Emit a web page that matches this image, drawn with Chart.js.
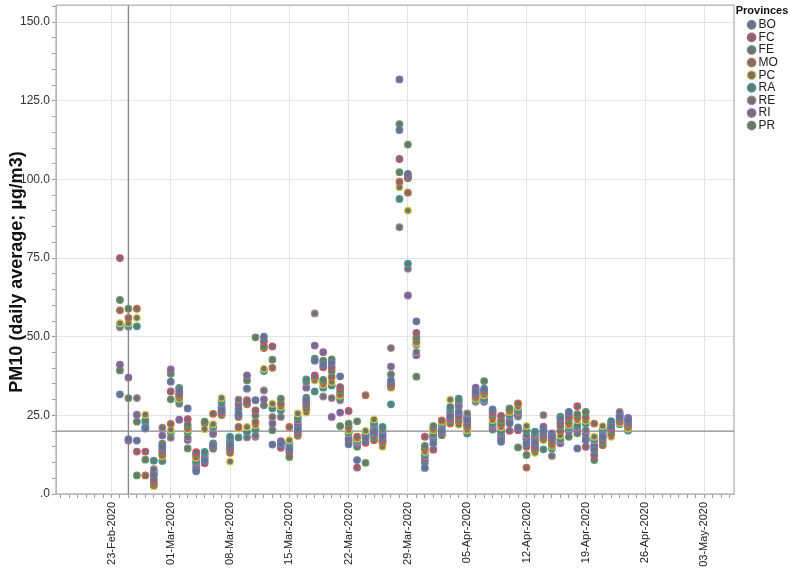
<!DOCTYPE html>
<html><head><meta charset="utf-8">
<script src="https://cdn.jsdelivr.net/npm/chart.js@4.4.1/dist/chart.umd.min.js"></script>
<style>html,body{margin:0;padding:0;background:#fff;}#wrap{width:790px;height:569px;position:relative;}</style>
</head><body><div id="wrap"><canvas id="c"></canvas></div>
<script>
// ---------- DATA ----------
const provinces = ['BO','FC','FE','MO','PC','RA','RE','RI','PR'];
const dates = [
 '2020-02-24','2020-02-25','2020-02-26','2020-02-27','2020-02-28','2020-02-29',
 '2020-03-01','2020-03-02','2020-03-03','2020-03-04','2020-03-05','2020-03-06','2020-03-07','2020-03-08','2020-03-09','2020-03-10',
 '2020-03-11','2020-03-12','2020-03-13','2020-03-14','2020-03-15','2020-03-16','2020-03-17','2020-03-18','2020-03-19','2020-03-20',
 '2020-03-21','2020-03-22','2020-03-23','2020-03-24','2020-03-25','2020-03-26','2020-03-27','2020-03-28','2020-03-29','2020-03-30','2020-03-31',
 '2020-04-01','2020-04-02','2020-04-03','2020-04-04','2020-04-05','2020-04-06','2020-04-07','2020-04-08','2020-04-09','2020-04-10',
 '2020-04-11','2020-04-12','2020-04-13','2020-04-14','2020-04-15','2020-04-16','2020-04-17','2020-04-18','2020-04-19','2020-04-20',
 '2020-04-21','2020-04-22','2020-04-23','2020-04-24'];
const BO = [31.7,17.4,17.0,20.8,6.0,15.0,35.7,33.1,27.2,7.2,10.6,15.5,26.6,15.5,25.6,33.5,29.8,50.0,15.7,15.8,14.2,20.6,29.8,42.4,41.3,41.7,37.4,15.8,10.8,17.6,19.7,18.2,36.1,115.7,101.8,54.9,8.3,16.1,20.0,24.7,26.1,23.4,32.4,33.5,26.9,16.6,22.4,21.2,16.1,16.2,19.8,18.2,24.0,26.1,14.5,17.1,14.0,18.2,21.4,24.5,23.2];
const FC = [75.0,17.0,13.5,13.5,4.6,14.2,32.6,32.0,23.8,13.3,9.8,15.0,26.1,14.7,25.0,29.8,26.6,48.6,46.9,14.7,13.4,20.0,29.0,37.7,40.3,40.3,34.0,26.4,8.4,16.3,19.2,17.3,35.0,106.5,100.9,51.2,18.2,14.1,19.5,24.0,25.0,22.4,31.9,33.0,26.2,24.8,20.1,20.3,15.0,15.2,19.0,17.4,22.7,24.8,27.9,15.0,12.4,17.7,20.8,24.0,22.6];
const FE = [61.7,58.9,5.9,10.9,3.6,13.3,30.1,31.4,22.0,12.7,23.0,14.4,25.6,14.0,24.5,28.9,25.0,47.0,42.7,30.3,11.8,19.2,28.2,37.2,36.3,39.1,32.9,22.4,23.1,9.9,18.2,16.8,34.5,102.3,100.4,49.6,15.3,21.6,18.7,23.4,24.3,21.8,31.4,32.5,25.6,23.5,27.2,14.8,12.4,14.5,18.2,16.6,21.6,24.0,25.4,26.1,10.8,16.6,20.3,23.5,21.9];
const MO = [58.4,56.0,58.9,5.9,2.9,12.5,22.3,31.0,21.0,12.0,22.6,25.5,25.1,13.1,21.3,28.5,22.9,46.4,40.1,28.7,21.3,18.5,27.1,37.0,35.6,37.2,31.9,21.3,18.2,31.4,17.1,16.3,34.0,99.3,95.8,48.6,14.4,20.8,23.4,22.4,23.2,21.3,30.8,31.9,24.6,22.2,26.6,28.8,8.4,14.0,17.6,15.9,20.0,22.8,24.4,24.3,22.4,15.5,19.2,23.0,21.4];
const PC = [54.3,54.3,56.0,25.2,2.5,12.0,20.4,30.3,20.5,11.5,20.6,22.2,30.5,10.3,20.8,21.3,21.9,39.8,28.7,27.7,17.1,25.6,25.9,36.1,34.7,35.6,31.3,20.3,17.6,20.1,23.7,15.0,33.8,97.5,90.1,48.0,13.4,20.3,23.0,30.0,22.0,20.3,30.3,31.4,23.5,21.2,26.1,27.7,21.6,13.1,17.1,15.2,18.6,21.9,23.5,23.3,18.2,21.6,18.2,22.6,20.8];
const RA = [53.9,53.8,53.3,23.4,10.6,10.5,19.6,29.6,19.6,10.6,13.4,21.7,29.8,18.2,18.0,19.7,20.5,39.1,27.2,26.6,16.6,24.5,36.4,32.6,33.8,34.5,30.8,19.7,17.1,19.4,22.6,21.3,28.5,93.8,73.2,47.5,12.9,19.0,22.6,27.7,30.3,19.2,29.8,30.4,22.7,20.1,25.3,27.0,20.3,19.8,14.2,14.5,17.6,21.3,21.9,22.4,17.6,20.8,23.2,22.2,20.4];
const RE = [53.0,53.2,30.5,22.8,7.9,21.1,17.9,28.7,18.0,10.0,12.7,21.0,28.7,17.4,30.0,18.0,18.6,32.9,24.5,24.5,16.1,23.4,35.6,57.4,31.0,30.5,29.8,19.2,16.6,19.0,22.0,20.5,46.4,84.8,71.6,45.1,12.0,18.6,22.0,26.8,29.6,25.6,29.3,29.8,21.9,19.2,24.8,26.1,18.7,19.0,25.1,12.1,17.1,20.8,21.2,20.3,17.1,20.3,22.8,26.1,20.1];
const RI = [41.1,37.0,25.2,21.5,7.2,18.6,39.6,23.6,17.2,9.2,12.0,19.1,27.7,16.6,28.7,37.7,18.2,30.1,22.4,16.8,15.6,22.2,33.8,47.2,45.1,24.5,25.9,17.6,16.1,18.7,21.3,19.4,40.5,131.8,63.1,44.1,11.0,18.0,21.6,26.1,28.6,24.5,33.8,29.3,21.2,18.4,23.5,25.4,18.0,18.2,21.4,19.3,16.1,20.0,20.5,19.3,15.5,19.8,22.4,25.6,24.2];
const PR = [39.3,30.5,23.0,21.0,6.5,16.0,38.2,33.7,14.5,8.0,11.4,16.1,27.1,16.1,27.1,36.1,49.8,28.2,20.3,16.3,15.0,21.3,30.6,43.0,42.4,42.8,21.6,16.9,15.0,18.2,20.3,18.9,38.0,117.6,111.1,37.3,9.9,17.6,20.8,25.4,27.7,23.9,33.0,35.9,20.5,17.6,23.0,24.6,17.4,17.1,20.6,18.7,24.6,18.2,19.3,17.7,14.8,18.7,21.9,25.1,23.7];
const seriesValues = [BO, FC, FE, MO, PC, RA, RE, RI, PR];
const tickLabels = ['23-Feb-2020','01-Mar-2020','08-Mar-2020','15-Mar-2020','22-Mar-2020','29-Mar-2020',
  '05-Apr-2020','12-Apr-2020','19-Apr-2020','26-Apr-2020','03-May-2020'];
const limitValue = 20;            // horizontal reference line (µg/m3)
const markerDate = '2020-02-25';  // vertical reference line
const yTitle = 'PM10 (daily average; µg/m3)';
const legendTitle = 'Provinces';

// ---------- STYLE ----------
const provinceColors = ['#5b7fd0','#d8506e','#5aa05e','#d8693e','#d6c83a','#2fa59e','#a08894','#9a62c8','#5e9e5a'];
const FONT = "'Liberation Sans', Arial, Helvetica, sans-serif";

// ---------- helpers ----------
const EPOCH = Date.UTC(2020, 1, 23);
const MON = {Jan:0,Feb:1,Mar:2,Apr:3,May:4,Jun:5};
function isoDay(s){ const [y,m,d] = s.split('-').map(Number); return Math.round((Date.UTC(y,m-1,d)-EPOCH)/864e5); }
function labelDay(s){ const [d,mo,y] = s.split('-'); return Math.round((Date.UTC(+y,MON[mo],+d)-EPOCH)/864e5); }
const labelAt = {}; tickLabels.forEach(t => { labelAt[labelDay(t)] = t; });
const X_MIN = -6.55, X_MAX = 73.5, Y_MIN = 0, Y_MAX = 155.4;

const datasets = provinces.map((p, i) => ({
  label: p,
  data: dates.map((d, k) => ({x: isoDay(d), y: seriesValues[i][k]})),
  backgroundColor: '#727272',
  borderColor: provinceColors[i],
  borderWidth: 1.2,
  pointRadius: 3.3,
  pointStyle: 'circle',
  showLine: false
}));

const refLines = {
  id: 'refLines',
  beforeDatasetsDraw(chart){
    const {ctx, chartArea: a, scales: {x, y}} = chart;
    ctx.save();
    ctx.strokeStyle = '#bdbdbd'; ctx.lineWidth = 1.5;
    ctx.strokeRect(a.left, a.top, a.right - a.left, a.bottom - a.top);
    ctx.strokeStyle = '#888888'; ctx.lineWidth = 1.4;
    const py = y.getPixelForValue(limitValue);
    ctx.beginPath(); ctx.moveTo(a.left, py); ctx.lineTo(a.right, py); ctx.stroke();
    const px = x.getPixelForValue(isoDay(markerDate));
    ctx.beginPath(); ctx.moveTo(px, a.top); ctx.lineTo(px, a.bottom); ctx.stroke();
    ctx.restore();
  }
};
const LEGEND_W = 56, LEGEND_SHIFT = 16;
const legendTweak = {
  id: 'legendTweak',
  beforeUpdate(chart){
    const lg = chart.legend;
    if (!lg || lg.__tw) return;
    lg.__tw = true;
    const fit = lg.fit, drw = lg._draw;
    lg.fit = function(){ fit.call(this); this.width = LEGEND_W; };
    lg._draw = function(){ this.left += LEGEND_SHIFT; this.width -= 2*LEGEND_SHIFT; drw.call(this); this.left -= LEGEND_SHIFT; this.width += 2*LEGEND_SHIFT; };
  }
};

new Chart(document.getElementById('c'), {
  type: 'scatter',
  data: { datasets },
  plugins: [legendTweak, refLines],
  options: {
    responsive: true, maintainAspectRatio: false, animation: false,
    layout: { padding: { top: 3, right: 0, bottom: 0, left: 0 } },
    plugins: {
      tooltip: { enabled: false },
      legend: {
        position: 'right', align: 'start',
        title: { display: true, text: legendTitle, color: '#111', font: { family: FONT, size: 11, weight: 'bold' }, padding: { top: 2, bottom: 0 } },
        labels: { usePointStyle: true, pointStyle: 'circle', boxWidth: 2, boxHeight: 6, padding: 0.6, color: '#222', font: { family: FONT, size: 12 } }
      }
    },
    scales: {
      x: {
        type: 'linear', min: X_MIN, max: X_MAX,
        afterBuildTicks(s){ const t = []; for (let v = Math.ceil(X_MIN); v <= Math.floor(X_MAX); v++) t.push({value: v}); s.ticks = t; },
        afterFit(s){ s.height = 75; s.paddingLeft = 0; s.paddingRight = 0; },
        ticks: { autoSkip: false, minRotation: 90, maxRotation: 90, padding: 4, color: '#222', font: { family: FONT, size: 11 },
          callback: v => labelAt[v] || '' },
        grid: { color: c => (c.tick && labelAt[c.tick.value]) ? '#e3e3e3' : 'rgba(0,0,0,0)', tickColor: '#9a9a9a', tickLength: 4, lineWidth: 1 },
        border: { color: '#a0a0a0', width: 1 }
      },
      y: {
        type: 'linear', min: Y_MIN, max: Y_MAX,
        afterBuildTicks(s){ const t = []; for (let v = 0; v <= Y_MAX; v += 5) t.push({value: v}); s.ticks = t; },
        afterFit(s){ s.width = 56; s.paddingTop = 0; s.paddingBottom = 0; },
        ticks: { autoSkip: false, padding: 2, color: '#333', font: { family: FONT, size: 12 },
          callback: v => (v % 25 === 0) ? (v === 0 ? '.0' : v.toFixed(1)) : '' },
        grid: { color: c => (c.tick && c.tick.value % 25 === 0 && c.tick.value > 0) ? '#e3e3e3' : 'rgba(0,0,0,0)', tickColor: '#9a9a9a', tickLength: 4 },
        border: { color: '#a0a0a0', width: 1 },
        title: { display: true, text: yTitle + '\u2002\u2002\u2002\u2002\u2002', color: '#111', font: { family: FONT, size: 18, weight: 'bold' }, padding: { top: 6.5, bottom: 0 } }
      }
    }
  }
});
</script></body></html>
